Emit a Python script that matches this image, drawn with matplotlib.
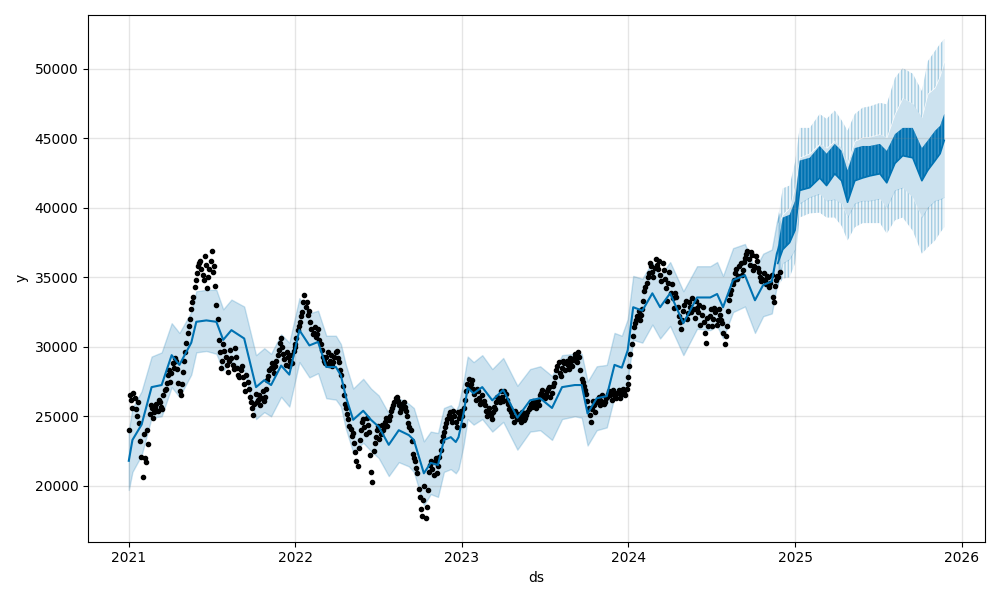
import numpy as np
import pandas as pd
import matplotlib
matplotlib.use("Agg")
import matplotlib.pyplot as plt

# =====================================================
# observed values (about one reading every 5 days, per year)
# =====================================================
obs_2021 = [24000, 26200, 26700, 25500, 26000,
            23200, 20600, 22000, 24000,
            25200, 25600, 25300, 25900, 26200, 25700, 26500,
            27000, 28000, 27500,
            28800, 29200, 28400,
            26800, 27300,
            29000, 30300,
            31500, 32700, 33600,
            34800, 35800,
            36200, 35200, 36500, 34200, 35600, 36900, 35800,
            33000, 30500,
            28500, 30200, 29300, 28200, 29800, 28700,
            29900, 28500, 27800, 28600, 27300, 28000,
            27000, 26000, 25100, 26600,
            26200, 25800, 26800, 26400,
            27600, 28300, 28800, 28100, 29000,
            29800, 30600, 29500, 28700, 29300, 29000, 28800, 30200]
obs_2022 = [30000, 31200, 31800, 32500, 33700, 33200, 32600,
            31300, 31000, 30700, 31300,
            30200, 29300, 28800, 29600, 29000,
            28600, 29300, 29700, 28900,
            28000, 26500, 25600,
            24800, 24100,
            23800, 22400, 21400, 23300,
            24600, 24200, 24900, 23900,
            21000, 22500,
            23500, 24300, 23700, 24000,
            24600, 24300, 25000,
            25600, 26000, 26400, 25800, 25500, 26000, 25400,
            24500, 24000,
            22300, 21800, 20900,
            19200, 17800, 20000, 18500,
            21000, 21800,
            20800, 22000, 21400,
            22600, 23600, 24200,
            24800, 25300, 24600, 25000,
            24200, 24900, 25400]
obs_2023 = [25000, 25600, 26800, 27700, 27300, 27000,
            26200, 26800, 25900, 26500, 25800,
            25000, 25600, 24800, 25700, 26000,
            26300, 26800, 26100, 26600, 25900,
            25600, 25000, 25400, 24800,
            24900, 25300, 24700, 25100,
            25500, 25900, 26100, 25600, 26200,
            26500, 26900, 26300, 26800,
            27100, 26700, 27400,
            28300, 28900, 27900,
            29000, 28300, 28700, 29200,
            28600, 29500, 28900, 29300,
            27700, 27200, 26600,
            25600, 24600, 26100, 25300,
            26200, 25800, 26500, 26000,
            26400, 26800, 26200, 26600, 26300, 26900,
            26600, 27000, 26500, 27300]
obs_2024 = [27800, 29500, 30800, 31700, 32200, 31900, 32700, 34000, 34600,
            35300, 35800, 35000, 36300, 35600, 35200,
            36000, 34900, 33300, 35400, 34500, 32800,
            33600, 32200, 31300, 32600,
            33300, 32400, 32900, 33500, 32100, 32800,
            33000, 32300, 31800, 30300, 31500,
            32700, 32000, 32500, 31900, 32300, 31700,
            30200, 31500,
            33400, 34100,
            34800, 35600, 35100, 36000, 35500,
            36400, 36900, 35900, 36600, 35800, 36200,
            35400, 34700, 35300, 34500, 35000, 34600,
            33600, 34400,
            35100, 35400]

# readings that fall between the ones above
mid_2021 = [26500, 25600, 26300, 25000, 24500, 22100, 23700, 21700, 23000, 25800,
            24900, 25600, 25400, 26000, 25500, 26900, 27400, 28300, 28100, 28500,
            29000, 27400, 26500, 28200, 29600, 31000, 32000, 33200, 34300, 35300,
            36000, 35600, 34800, 35900, 35000, 36200, 35400, 34400, 32000, 29600,
            29000, 29700, 28700, 29000, 29200, 28400, 29300, 28000, 28300, 27800,
            26800, 27500, 26400, 25600, 25900, 26000, 26500, 26300, 26100, 27000,
            27900, 28500, 28500, 28600, 29400, 30300, 30000, 29100, 29600, 28600,
            29400, 29700]
mid_2022 = [30600, 31500, 32200, 33200, 32900, 32300, 31800, 30900, 31400, 30900,
            30500, 29800, 29000, 29300, 28700, 29400, 28900, 29600, 29200, 28300,
            27200, 25900, 25200, 24300, 23600, 23100, 21800, 22700, 24000, 24800,
            23700, 24400, 22200, 20300, 23100, 24000, 23400, 24400, 24200, 24900,
            24700, 25400, 25800, 26300, 26100, 25300, 25900, 25700, 25000, 24200,
            23200, 22000, 21300, 19800, 18300, 19000, 17700, 19700, 21500, 21200,
            21700, 20900, 22100, 23200, 23900, 24500, 25100, 24900, 25400, 24600,
            25300, 25100]
mid_2023 = [24400, 26200, 27300, 27100, 27600, 26600, 27000, 26300, 26000, 26100,
            25400, 25300, 25100, 25300, 25500, 26400, 26000, 26400, 26800, 26200,
            25500, 25300, 24600, 25000, 25200, 24600, 25000, 24900, 25300, 25700,
            25700, 25900, 26000, 25800, 26700, 26400, 26600, 27000, 26400, 27200,
            27800, 28600, 28100, 28500, 28800, 29000, 28400, 29000, 29200, 29000,
            29600, 28300, 27500, 26900, 26100, 25100, 25500, 25800, 26000, 26400,
            26100, 25900, 26300, 26600, 26500, 26900, 26400, 26700, 26300, 26800,
            26700, 27000]
mid_2024 = [28600, 30200, 31400, 31900, 32600, 32300, 33300, 34300, 35000, 36000,
            35400, 35700, 35900, 36200, 34700, 35500, 34200, 34600, 33900, 33500,
            33900, 32900, 31800, 31900, 33000, 32000, 33200, 32500, 32700, 33300,
            32500, 31600, 32900, 31000, 32100, 32200, 31500, 32800, 31600, 32700,
            31900, 31000, 30800, 32600, 33800, 34500, 35300, 34900, 35800, 35200,
            36100, 36700, 36300, 36800, 35500, 36500, 35700, 35000, 34900, 34800,
            35100, 34300, 35200, 33200, 34800, 35000]

obs_spans = [("2021-01-01", "2021-12-31", obs_2021, mid_2021),
             ("2022-01-01", "2022-12-31", obs_2022, mid_2022),
             ("2023-01-01", "2023-12-31", obs_2023, mid_2023),
             ("2024-01-01", "2024-11-28", obs_2024, mid_2024)]

# =====================================================
# fitted line + uncertainty over the history
# =====================================================
trend_dates = ["2021-01-01", "2021-01-09", "2021-01-29", "2021-02-20", "2021-03-14",
               "2021-04-05", "2021-04-22", "2021-05-18", "2021-05-29", "2021-06-20",
               "2021-07-12", "2021-07-27", "2021-08-14", "2021-09-11", "2021-10-07",
               "2021-10-25", "2021-11-09", "2021-12-01", "2021-12-19", "2022-01-10",
               "2022-02-01", "2022-02-20", "2022-03-10", "2022-03-31", "2022-04-11",
               "2022-04-22", "2022-05-08", "2022-05-30", "2022-06-16", "2022-07-03",
               "2022-07-25", "2022-08-16", "2022-09-07", "2022-09-18", "2022-09-29",
               "2022-10-10", "2022-10-25", "2022-11-10", "2022-11-23", "2022-12-08",
               "2022-12-19", "2022-12-25", "2023-01-05", "2023-01-14", "2023-01-27",
               "2023-02-15", "2023-03-09", "2023-04-02", "2023-05-03", "2023-05-31",
               "2023-06-22", "2023-07-18", "2023-08-09", "2023-09-06", "2023-09-21",
               "2023-10-04", "2023-10-24", "2023-11-15", "2023-12-02", "2023-12-18",
               "2023-12-31", "2024-01-12", "2024-02-01", "2024-02-23", "2024-03-11",
               "2024-04-02", "2024-05-01", "2024-05-31", "2024-06-29", "2024-07-14",
               "2024-07-27", "2024-08-18", "2024-09-13", "2024-10-05", "2024-10-23",
               "2024-11-11", "2024-11-22", "2024-11-28"]
trend_yhat = [21800, 23300, 24400, 27100, 27250, 29400, 28700, 30300, 31800, 31900,
              31800, 30500, 31200, 30600, 27100, 27600, 27250, 28650, 28000, 31200,
              30100, 30350, 28550, 28550, 27950, 26400, 24750, 25400, 24750, 24250,
              22950, 24000, 23650, 23300, 22100, 20900, 21650, 21500, 23300, 23500,
              23150, 23500, 25200, 27050, 26650, 27100, 26150, 26900, 24900, 26150,
              26300, 25600, 27100, 27250, 27250, 25200, 26300, 26450, 28700, 28500,
              29750, 32850, 32600, 33850, 32850, 33850, 31700, 33550, 33550, 33800,
              32850, 34800, 35150, 33350, 34450, 34700, 36700, 37300]
trend_lower = [19700, 21000, 22200, 24900, 25000, 27100, 26400, 28000, 29600, 29700,
               29500, 28300, 28900, 28300, 24800, 25300, 25000, 26400, 25700, 28900,
               27800, 28100, 26300, 26200, 25700, 24100, 22400, 23100, 22500, 22000,
               20700, 21700, 21400, 21000, 19800, 18600, 19400, 19200, 21000, 21200,
               20900, 21200, 22900, 24800, 24400, 24800, 23900, 24600, 22600, 23900,
               24000, 23300, 24800, 25000, 24900, 22900, 24000, 24200, 26400, 26200,
               27500, 30500, 30300, 31600, 30600, 31500, 29400, 31300, 31200, 31500,
               30600, 32500, 32900, 31000, 32200, 32400, 34400, 35000]
trend_upper = [24000, 25600, 26800, 29300, 29600, 31700, 31000, 32500, 34000, 34100,
               34100, 32700, 33400, 32900, 29400, 29900, 29500, 30900, 30300, 33500,
               32400, 32600, 30800, 30800, 30200, 28700, 27000, 27700, 27000, 26500,
               25200, 26300, 25900, 25600, 24400, 23200, 23900, 23800, 25600, 25800,
               25400, 25800, 27500, 29300, 28900, 29400, 28400, 29200, 27200, 28400,
               28600, 27900, 29400, 29500, 29500, 27500, 28600, 28700, 31000, 30800,
               32000, 35100, 34900, 36100, 35100, 36100, 34000, 35800, 35800, 36100,
               35100, 37100, 37400, 35600, 36700, 37000, 39000, 39600]

# =====================================================
# forecast year: weekly swing of the line and of the band
# =====================================================
fc_dates = ["2024-11-24", "2024-12-05", "2024-12-20", "2025-01-01", "2025-01-11",
            "2025-02-02", "2025-02-24", "2025-03-11", "2025-03-29", "2025-04-13",
            "2025-04-26", "2025-05-12", "2025-05-29", "2025-06-14", "2025-07-06",
            "2025-07-21", "2025-08-08", "2025-08-25", "2025-09-16", "2025-10-06",
            "2025-10-19", "2025-11-04", "2025-11-15", "2025-11-24"]
fc_yhat_low = [36000, 37000, 37500, 38400, 41250, 41450, 42150, 41600, 42450, 41950,
               40400, 41950, 42150, 42300, 42450, 41800, 43200, 43750, 43600, 41950,
               42700, 43400, 43900, 44850]
fc_yhat_high = [37200, 39300, 39500, 40500, 43400, 43600, 44450, 43900, 44600, 44100,
                42700, 44300, 44450, 44450, 44600, 44100, 45300, 45750, 45750, 44300,
                44850, 45550, 45900, 46750]
fc_upper_in = [38800, 39500, 40000, 41500, 43600, 43900, 44600, 44300, 44800, 44300,
               43200, 44800, 45050, 45100, 45300, 45050, 46750, 47900, 47500, 46500,
               48200, 48650, 49500, 50550]
fc_upper_out = [39200, 41400, 41600, 43300, 45750, 45750, 46750, 46400, 47000, 46300,
                45550, 46750, 47200, 47300, 47550, 47450, 49350, 50050, 49650, 48400,
                50550, 51300, 51800, 52150]
fc_lower_in = [34600, 36000, 36300, 37000, 40300, 40750, 41000, 40500, 40600, 40300,
               39300, 40300, 40500, 40500, 40650, 40000, 41250, 41450, 40750, 39300,
               40000, 40500, 40600, 40750]
fc_lower_out = [34300, 34900, 35000, 36000, 39300, 39600, 39650, 39300, 39300, 38700,
                37650, 38600, 38900, 38900, 38900, 38150, 39100, 39300, 38350, 36700,
                37150, 37650, 38200, 38600]

# =====================================================
# plot
# =====================================================
blue = "#0072B2"
plt.rcParams["hatch.linewidth"] = 1.0

fig = plt.figure(facecolor="w", figsize=(10, 6))
ax = fig.add_subplot(111)

for start, end, vals, mids in obs_spans:
    d = pd.date_range(start, end, periods=len(vals))
    half = (d[1] - d[0]) / 2
    dm = pd.date_range(d[0] + half, d[-1] - half, periods=len(mids))
    ax.plot(d, vals, "k.")
    ax.plot(dm, mids, "k.")

td = pd.to_datetime(trend_dates)
ax.plot(td, trend_yhat, ls="-", c=blue)
ax.fill_between(td, trend_lower, trend_upper, color=blue, alpha=0.2)

fd = pd.to_datetime(fc_dates)
ax.fill_between(fd, fc_lower_in, fc_upper_in, color=blue, alpha=0.2, linewidth=0)
for lo, hi in [(fc_upper_in, fc_upper_out), (fc_lower_out, fc_lower_in)]:
    ax.fill_between(fd, lo, hi, facecolor=(0, 0.447, 0.698, 0.07),
                    edgecolor=(0, 0.447, 0.698, 0.3), hatch="|||||", linewidth=0)
ax.fill_between(fd, fc_yhat_low, fc_yhat_high, facecolor=blue,
                edgecolor=(0.45, 0.7, 0.86, 0.45), hatch="|||||", linewidth=0)
ax.plot(fd, fc_yhat_low, c=blue, lw=1.2)

ax.grid(True, which="major", c="gray", ls="-", lw=1, alpha=0.2)
ax.set_xlabel("ds")
ax.set_ylabel("y")
fig.tight_layout()
fig.savefig("out.png", dpi=100)
